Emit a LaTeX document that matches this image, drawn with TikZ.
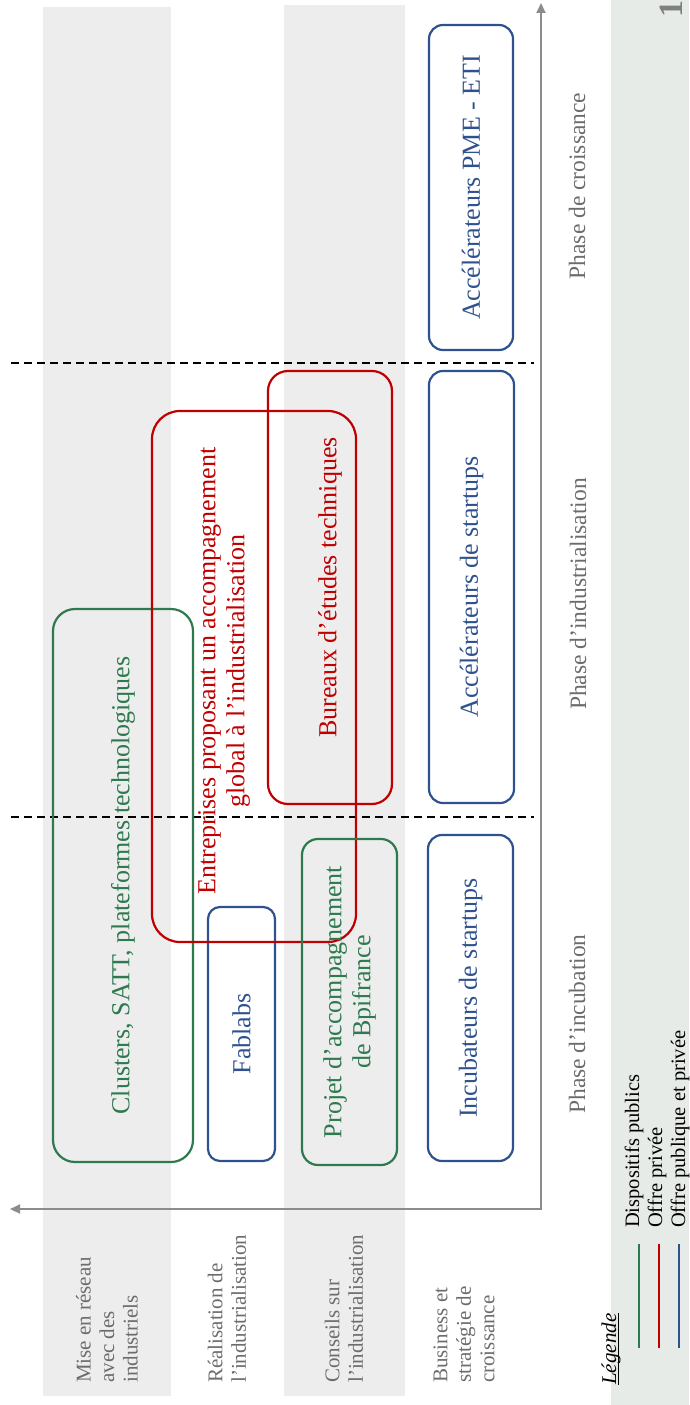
\documentclass[tikz,border=0pt]{standalone}
\usepackage{fontspec}
\setmainfont{Liberation Serif}
\usetikzlibrary{arrows.meta}
\definecolor{cgreen}{RGB}{46,122,78}
\definecolor{cred}{RGB}{192,0,0}
\definecolor{cblue}{RGB}{47,82,143}
\definecolor{bandgray}{RGB}{237,237,237}
\definecolor{legbg}{RGB}{231,235,231}
\definecolor{axisgray}{RGB}{140,140,140}
\definecolor{labelgray}{RGB}{108,108,108}
\definecolor{numgray}{RGB}{128,128,128}
\newcommand\bxfont{\fontsize{26}{29}\selectfont}
\newcommand\rwfont{\fontsize{21}{23.5}\selectfont}
\newcommand\phfont{\fontsize{23.5}{26}\selectfont}
\newcommand\lgfont{\fontsize{20.5}{23}\selectfont}
\begin{document}
\begin{tikzpicture}[x=1pt,y=-1pt,
  pbox/.style={draw, line width=2.2pt, inner sep=0pt, rotate=90, align=center, font=\bxfont},
  gbox/.style={pbox, draw=cgreen, text=cgreen},
  rbox/.style={pbox, draw=cred, text=cred},
  bbox/.style={pbox, draw=cblue, text=cblue},
  rowlab/.style={rotate=90, anchor=west, align=left, inner sep=0pt, text=labelgray, font=\rwfont},
  phaselab/.style={rotate=90, inner sep=0pt, text=labelgray, font=\phfont},
  leglab/.style={rotate=90, anchor=base west, inner sep=0pt, font=\lgfont},
  axisline/.style={draw=axisgray, line width=2pt, line join=miter, {Triangle[length=10pt,width=9pt]}-{Triangle[length=10pt,width=9pt]}},
  divider/.style={draw=black, line width=1.3pt, dash pattern=on 8pt off 5pt},
  legline/.style={line width=2pt}]
\useasboundingbox (0,0) rectangle (689,1405);
% background bands
\fill[bandgray] (43,7) rectangle (171,1396);
\fill[bandgray] (284,5) rectangle (405,1396);
\fill[legbg] (611,0) rectangle (689,1405);
% dashed phase separators
\coordinate (d1a) at (11,363);
\coordinate (d1b) at (534,363);
\coordinate (d2a) at (11,817);
\coordinate (d2b) at (534,817);
\draw[divider] (d1a) -- (d1b);
\draw[divider] (d2a) -- (d2b);
% axes
\coordinate (origin) at (541,1209);
\coordinate (ytip) at (541,3);
\coordinate (xtip) at (10,1209);
\draw[axisline] (xtip) -- (origin) -- (ytip);
% boxes
\node[gbox, rounded corners=22pt, minimum width=553pt, minimum height=140pt] (clusters) at (123,885.5) {Clusters, SATT, plateformes technologiques};
\node[bbox, rounded corners=12pt, minimum width=254pt, minimum height=67pt] (fablabs) at (241.5,1034) {Fablabs};
\node[rbox, rounded corners=28pt, minimum width=531pt, minimum height=204pt] (entr) at (254,676.5) {};
\node[rotate=90, inner sep=0pt, align=center, font=\bxfont, text=cred] (entrtext) at (224,671) {Entreprises proposant un accompagnement\\global à l’industrialisation};
\node[rbox, rounded corners=20pt, minimum width=433pt, minimum height=124pt] (bureaux) at (330,587.5) {Bureaux d’études techniques};
\node[gbox, rounded corners=16pt, minimum width=326pt, minimum height=95pt] (projet) at (349.5,1002) {Projet d’accompagnement\\de Bpifrance};
\node[bbox, rounded corners=14pt, minimum width=326pt, minimum height=85pt] (incub) at (470.5,998) {Incubateurs de startups};
\node[bbox, rounded corners=14pt, minimum width=432pt, minimum height=85pt] (accstart) at (471.5,587) {Accélérateurs de startups};
\node[bbox, rounded corners=14pt, minimum width=325pt, minimum height=84pt] (accpme) at (471,187.5) {Accélérateurs PME - ETI};
% row labels
\node[rowlab] (row1) at (107,1383) {Mise en réseau\\avec des\\industriels};
\node[rowlab] (row2) at (227,1383) {Réalisation de\\l’industrialisation};
\node[rowlab] (row3) at (344,1383) {Conseils sur\\l’industrialisation};
\node[rowlab] (row4) at (464,1383) {Business et\\stratégie de\\croissance};
% phase labels
\node[phaselab] (ph1) at (577,1024) {Phase d’incubation};
\node[phaselab] (ph2) at (578,594) {Phase d’industrialisation};
\node[phaselab] (ph3) at (577,186) {Phase de croissance};
% legend
\node[rotate=90, anchor=base west, inner sep=0pt, font=\fontsize{21}{24}\selectfont\itshape] (leg) at (616,1385) {Légende};
\draw[line width=1pt] ([xshift=2.5pt]leg.base west) -- ([xshift=2.5pt]leg.base east);
\coordinate (lg1a) at (639,1348);
\coordinate (lg1b) at (639,1244);
\coordinate (lg2a) at (659,1348);
\coordinate (lg2b) at (659,1244);
\coordinate (lg3a) at (679,1348);
\coordinate (lg3b) at (679,1244);
\draw[legline, cgreen] (lg1a) -- (lg1b);
\draw[legline, cred] (lg2a) -- (lg2b);
\draw[legline, cblue] (lg3a) -- (lg3b);
\node[leglab] (lt1) at (639,1228) {Dispositifs publics};
\node[leglab] (lt2) at (662,1228) {Offre privée};
\node[leglab] (lt3) at (685,1228) {Offre publique et privée};
% page number
\node[rotate=90, inner sep=0pt, text=numgray, font=\fontsize{34}{36}\selectfont\bfseries] (pnum) at (671.5,9) {1};
\end{tikzpicture}
\end{document}
